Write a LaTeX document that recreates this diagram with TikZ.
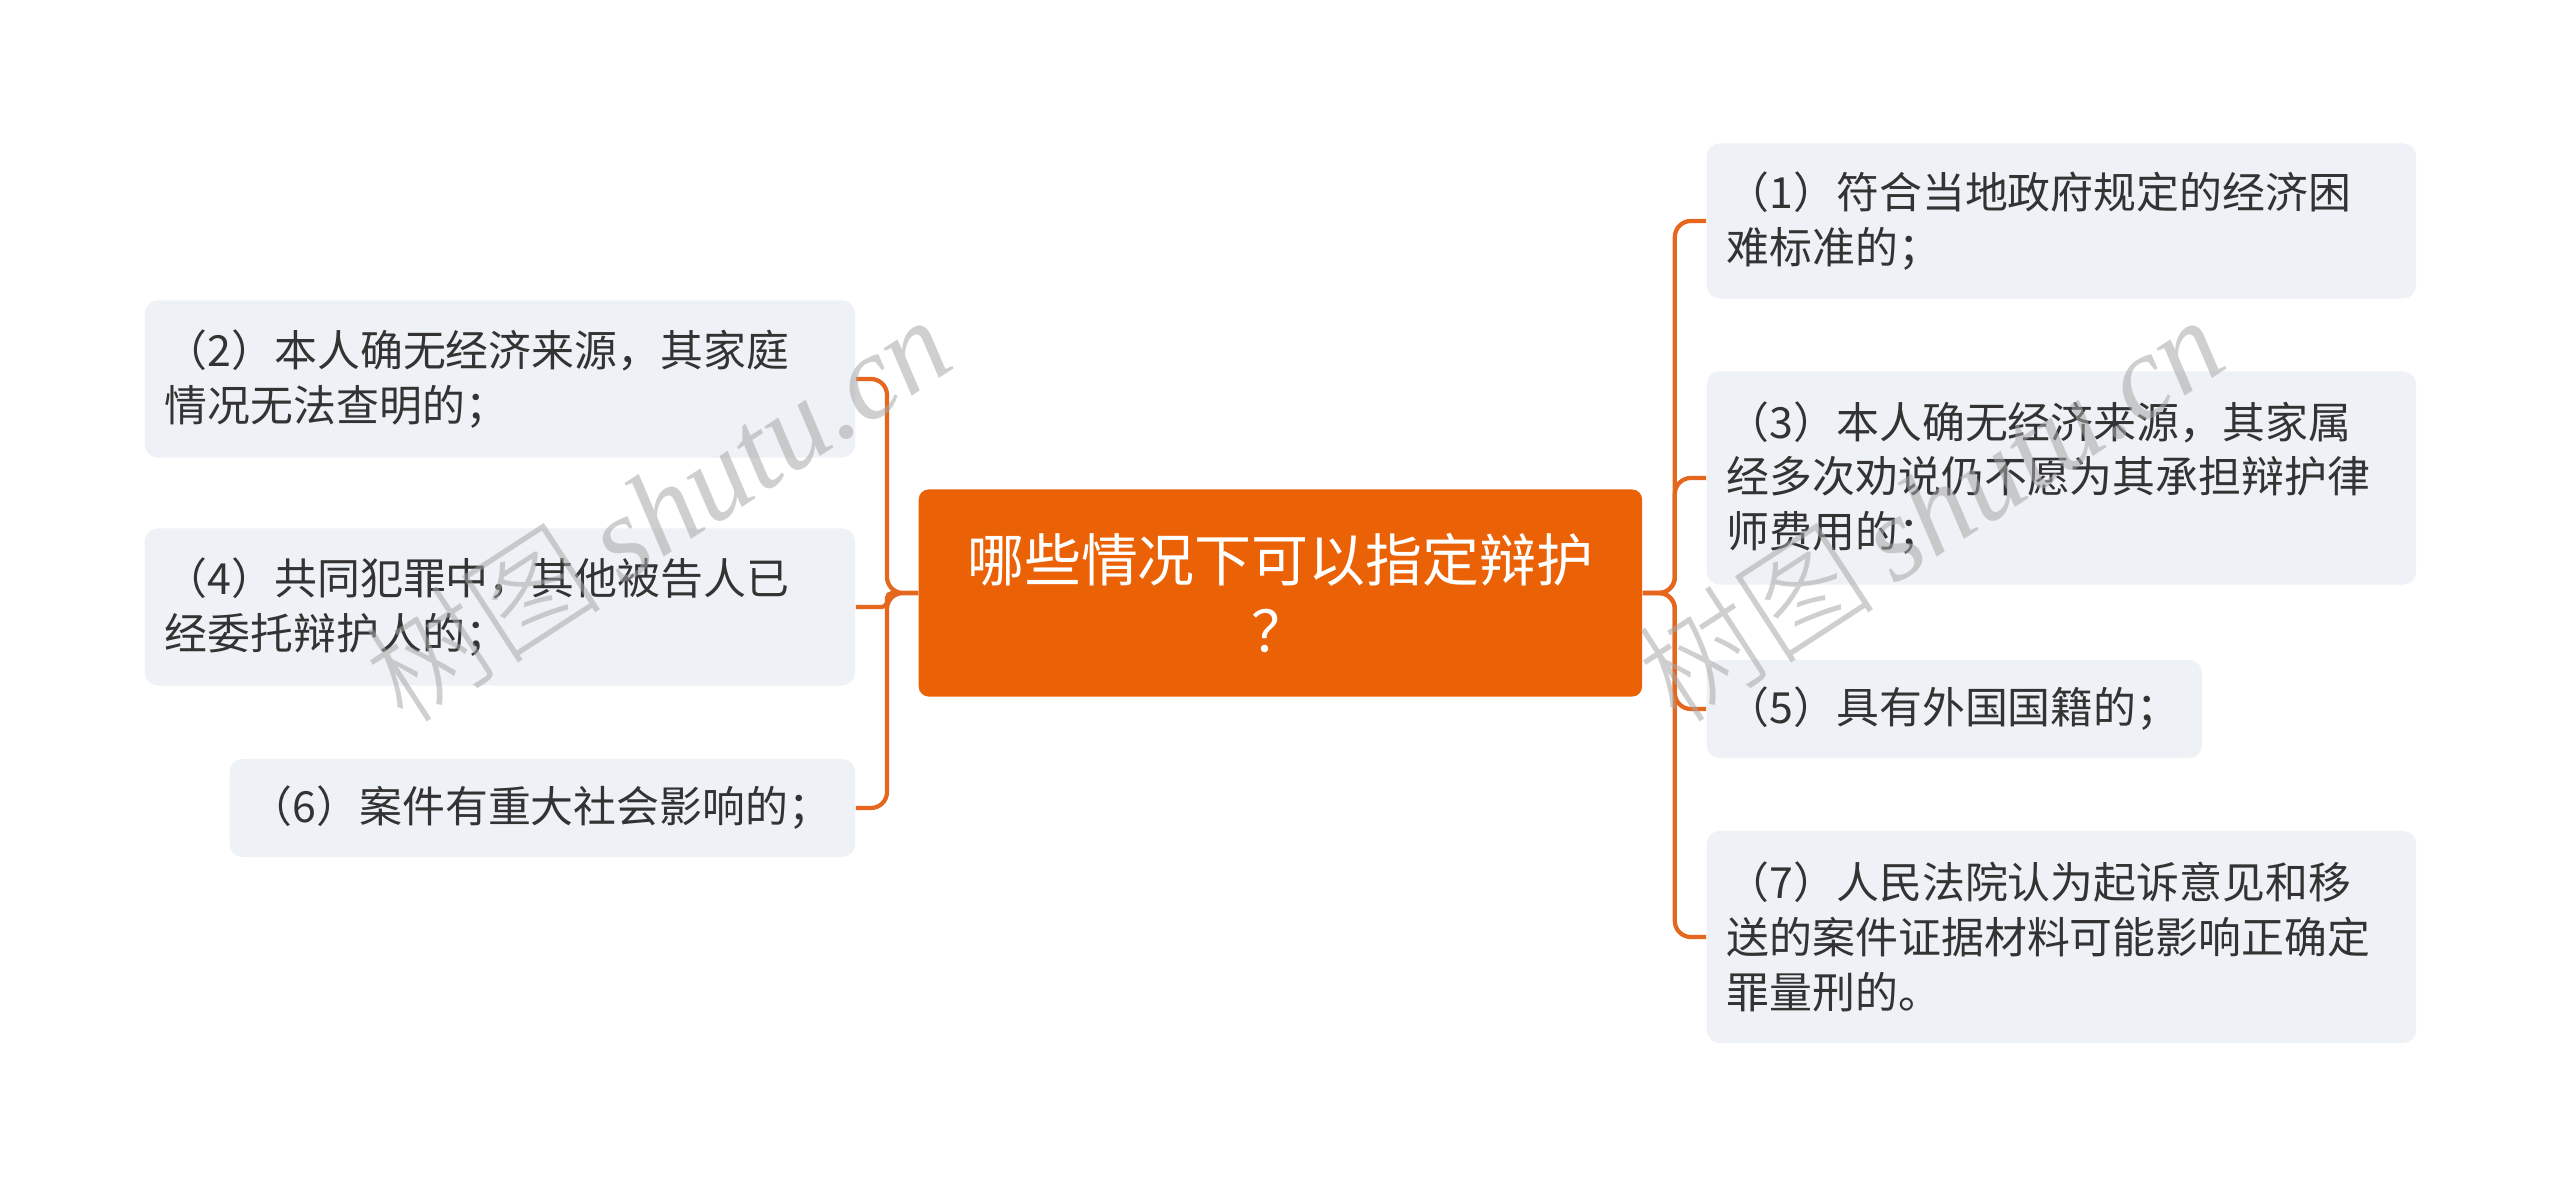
\documentclass[tikz,border=0pt]{standalone}
\usepackage{fontspec}
\setmainfont{Noto Sans CJK SC}
\newfontfamily\wmlatin{Liberation Serif}
\newfontfamily\wmcjk{Noto Sans CJK SC Light}
\definecolor{rootbg}{HTML}{EB6105}
\definecolor{leafbg}{HTML}{EEF1F5}
\definecolor{lineor}{HTML}{E5671E}
\definecolor{txt}{HTML}{333333}
\definecolor{wmgray}{HTML}{A8A8A8}
\newcommand{\leaffont}{\fontsize{12.2}{15.6}\selectfont}
\newcommand{\rootfont}{\fontsize{16.2}{20.4}\selectfont}
\tikzset{
  leaf/.style={rectangle, rounded corners=0.13cm, fill=leafbg, text=txt, font=\leaffont,
    align=left, inner xsep=0.2cm, inner ysep=0pt, anchor=west},
  root/.style={rectangle, rounded corners=0.1cm, fill=rootbg, text=white, font=\rootfont,
    align=center, inner sep=0pt, anchor=west},
  conn/.style={draw=lineor, line width=1.2pt, rounded corners=0.16cm},
  wm/.style={text=wmgray, opacity=0.55, font=\fontsize{34}{34}\selectfont, inner sep=0pt},
}
\begin{document}
\begin{tikzpicture}[x=0.01cm,y=-0.01cm]
\useasboundingbox[fill=white] (0,0) rectangle (2560,1189);

\node[root, minimum width=7.23cm, minimum height=2.07cm, text width=7.0cm] (c) at (918,593) {哪些情况下可以指定辩护\\？};

% left
\node[leaf, minimum width=7.10cm, minimum height=1.57cm, text width=6.70cm] (n2) at (144,379) {（2）本人确无经济来源，其家庭\\情况无法查明的；};
\node[leaf, minimum width=7.10cm, minimum height=1.57cm, text width=6.70cm] (n4) at (144,607) {（4）共同犯罪中，其他被告人已\\经委托辩护人的；};
\node[leaf, minimum width=6.25cm, minimum height=0.98cm, text width=5.85cm] (n6) at (229,808) {（6）案件有重大社会影响的；};

% right
\node[leaf, minimum width=7.09cm, minimum height=1.55cm, text width=6.69cm] (n1) at (1706,221) {（1）符合当地政府规定的经济困\\难标准的；};
\node[leaf, minimum width=7.09cm, minimum height=2.13cm, text width=6.69cm] (n3) at (1706,478) {（3）本人确无经济来源，其家属\\经多次劝说仍不愿为其承担辩护律\\师费用的；};
\node[leaf, minimum width=4.95cm, minimum height=0.98cm, text width=4.55cm] (n5) at (1706,709) {（5）具有外国国籍的；};
\node[leaf, minimum width=7.09cm, minimum height=2.12cm, text width=6.69cm] (n7) at (1706,937) {（7）人民法院认为起诉意见和移\\送的案件证据材料可能影响正确定\\罪量刑的。};

% connectors
\draw[conn] (c.west) -- ++(-31,0) |- (n2.east);
\draw[conn, rounded corners=0.05cm] (c.west) -- ++(-31,0) |- (n4.east);
\draw[conn] (c.west) -- ++(-31,0) |- (n6.east);
\draw[conn] (c.east) -- ++(32,0) |- (n1.west);
\draw[conn] (c.east) -- ++(32,0) |- (n3.west);
\draw[conn] (c.east) -- ++(32,0) |- (n5.west);
\draw[conn] (c.east) -- ++(32,0) |- (n7.west);

% watermarks
\node[wm, rotate=33] (w1) at (657,508) {{\wmcjk 树图}\,{\wmlatin\itshape shutu.cn}};
\node[wm, rotate=33] (w2) at (1930,508) {{\wmcjk 树图}\,{\wmlatin\itshape shutu.cn}};
\end{tikzpicture}
\end{document}
